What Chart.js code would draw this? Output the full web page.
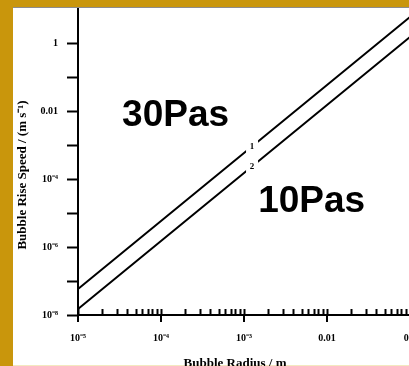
<!DOCTYPE html>
<html lang="en">
  <head>
    <meta charset="UTF-8" />
    <title>Bubble Rise Speed</title>
    <script src="https://cdn.jsdelivr.net/npm/chart.js@4"></script>
    <style>
      html, body { margin: 0; padding: 0; width: 409px; height: 366px; overflow: hidden; background: #c9960c; }
      #panel { position: absolute; left: 13px; top: 7px; width: 396px; height: 359px; background: #fff;
               border-top: 1px solid #8c8c8c; border-bottom: 1px solid #f3e9c0; box-sizing: border-box; }
      #wrap { position: absolute; left: 0; top: 0; }
    </style>
  </head>
  <body>
    <div id="panel"></div>
    <div id="wrap"><canvas id="myChart" width="420" height="366"></canvas></div>

    <script>
      // values (radius in m, speed in m/s)
      const radius = [1e-5, 1e-4, 1e-3, 1e-2, 1e-1];
      const speed1 = [5.8e-8, 5.8e-6, 5.8e-4, 5.8e-2, 5.8];
      const speed2 = [1.5e-8, 1.5e-6, 1.5e-4, 1.5e-2, 1.5];

      const xDecades = [1e-5, 1e-4, 1e-3, 1e-2, 1e-1];
      const xDecadeLabels = ['10\u207B\u2075', '10\u207B\u2074', '10\u207B\u00B3', '0.01', '0.1'];
      const yDecades = [1e-8, 1e-7, 1e-6, 1e-5, 1e-4, 1e-3, 1e-2, 1e-1, 1];
      const yDecadeLabels = ['10\u207B\u2078', '', '10\u207B\u2076', '', '10\u207B\u2074', '', '0.01', '', '1'];

      const curveNames = ['1', '2'];
      const curveNameX = [1.25e-3, 1.25e-3];
      const curveNameY = [9.1e-4, 2.3e-4];

      const noteText = ['30Pas', '10Pas'];
      const noteX = [3.4e-5, 1.48e-3];
      const noteY = [3.6e-3, 1.07e-5];

      const xTitle = 'Bubble Radius / m';
      const yTitle = 'Bubble Rise Speed / (m s\u207B\u00B9)';

      // minor x ticks at 2..9 of every decade
      const xTickValues = [];
      xDecades.forEach((d, i) => {
        if (i === xDecades.length - 1) { xTickValues.push(d); return; }
        for (let m = 1; m <= 9; m++) xTickValues.push(m * d);
      });

      const serif = '"Liberation Serif", "Times New Roman", serif';

      function decadeLabel(value, decades, labels) {
        const i = decades.findIndex(d => Math.abs(Math.log10(d) - Math.log10(value)) < 1e-6);
        return i < 0 ? '' : labels[i];
      }

      const notesPlugin = {
        id: 'notes',
        afterDatasetsDraw(chart) {
          const { ctx, scales: { x, y } } = chart;
          ctx.save();
          // curve numbers sit in a small gap of each line
          ctx.font = 'bold 9px ' + serif;
          ctx.textAlign = 'center';
          ctx.textBaseline = 'middle';
          curveNames.forEach((t, i) => {
            const px = x.getPixelForValue(curveNameX[i]);
            const py = y.getPixelForValue(curveNameY[i]);
            ctx.fillStyle = '#fff';
            ctx.fillRect(px - 6, py - 7, 12, 14);
            ctx.fillStyle = '#000';
            ctx.fillText(t, px, py);
          });
          ctx.font = 'bold 37px "Liberation Sans", Arial, sans-serif';
          ctx.textAlign = 'left';
          ctx.textBaseline = 'alphabetic';
          noteText.forEach((t, i) => {
            ctx.fillText(t, x.getPixelForValue(noteX[i]), y.getPixelForValue(noteY[i]));
          });
          ctx.restore();
        },
        afterDraw(chart) {
          const { ctx, scales: { x } } = chart;
          ctx.save();
          // decade ticks also poke below the x axis
          ctx.strokeStyle = '#000';
          ctx.lineWidth = 2;
          xDecades.forEach(d => {
            const px = Math.round(x.getPixelForValue(d));
            ctx.beginPath();
            ctx.moveTo(px, x.top);
            ctx.lineTo(px, x.top + 7);
            ctx.stroke();
          });
          ctx.fillStyle = '#000';
          ctx.font = 'bold 13px ' + serif;
          ctx.textAlign = 'center';
          ctx.textBaseline = 'alphabetic';
          ctx.fillText(xTitle, 235, 367);
          ctx.translate(26, 175);
          ctx.rotate(-Math.PI / 2);
          ctx.fillText(yTitle, 0, 0);
          ctx.restore();
        }
      };

      const ctx = document.getElementById('myChart').getContext('2d');
      const myChart = new Chart(ctx, {
        type: 'line',
        data: {
          datasets: [
            {
              label: 'Curve 1',
              data: radius.map((r, i) => ({ x: r, y: speed1[i] })),
              borderColor: '#000',
              borderWidth: 2,
              pointRadius: 0,
              fill: false
            },
            {
              label: 'Curve 2',
              data: radius.map((r, i) => ({ x: r, y: speed2[i] })),
              borderColor: '#000',
              borderWidth: 2,
              pointRadius: 0,
              fill: false
            }
          ]
        },
        options: {
          responsive: false,
          animation: false,
          layout: { padding: { left: 0, right: 10, top: 9, bottom: 0 } },
          plugins: { legend: { display: false }, tooltip: { enabled: false } },
          scales: {
            x: {
              type: 'logarithmic',
              min: 1e-5,
              max: 0.1,
              afterBuildTicks: s => { s.ticks = xTickValues.map(v => ({ value: v })); },
              afterFit: s => { s.height = 51; s.paddingLeft = 0; s.paddingRight = 0; },
              grid: { drawOnChartArea: false, tickLength: -6, tickWidth: 2, tickColor: '#000' },
              border: { color: '#000', width: 2 },
              ticks: {
                autoSkip: false,
                maxRotation: 0,
                padding: 23,
                color: '#000',
                font: { family: serif, size: 10, weight: 'bold' },
                callback: v => decadeLabel(v, xDecades, xDecadeLabels)
              }
            },
            y: {
              type: 'logarithmic',
              min: 1e-8,
              max: 10,
              afterBuildTicks: s => { s.ticks = yDecades.map(v => ({ value: v })); },
              afterFit: s => { s.width = 78; s.paddingTop = 0; s.paddingBottom = 0; },
              grid: { drawOnChartArea: false, tickLength: 11, tickWidth: 2, tickColor: '#000' },
              border: { color: '#000', width: 2 },
              ticks: {
                autoSkip: false,
                padding: 9,
                color: '#000',
                font: { family: serif, size: 10, weight: 'bold' },
                callback: v => decadeLabel(v, yDecades, yDecadeLabels)
              }
            }
          }
        },
        plugins: [notesPlugin]
      });
    </script>
  </body>
</html>
